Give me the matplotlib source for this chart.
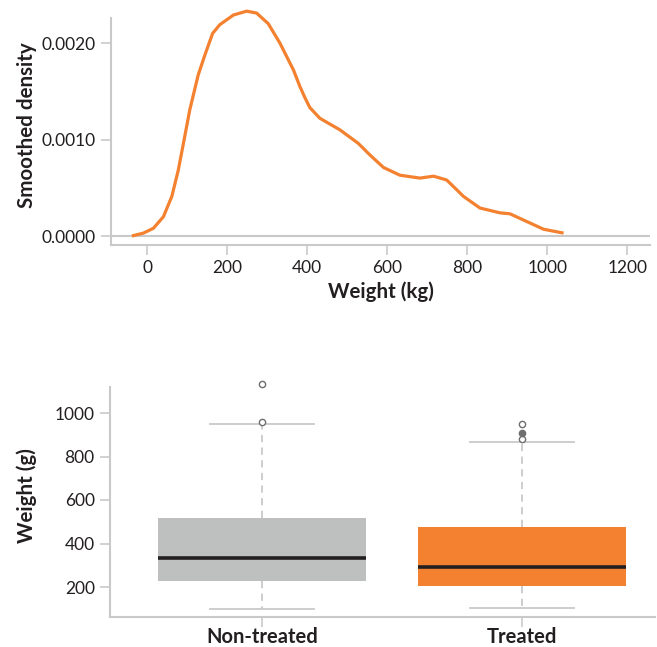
import matplotlib
matplotlib.use("Agg")
import matplotlib.pyplot as plt
import numpy as np

plt.rcParams['font.family'] = ['Lato', 'DejaVu Sans']

# ---- Data: density curve ----
weight_kg = [-38, -9, 16, 41, 62, 78, 91, 107, 128, 145, 164, 182, 216, 249, 274, 303,
             332, 366, 382, 395, 407, 432, 482, 528, 557, 591, 632, 682, 716, 749, 791,
             832, 882, 907, 949, 991, 1041]
density = [0.0, 0.00003, 0.00008, 0.0002, 0.00041, 0.00068, 0.00096, 0.00131, 0.00167,
           0.00188, 0.0021, 0.00219, 0.00229, 0.00233, 0.00231, 0.0022, 0.002, 0.00172,
           0.00155, 0.00143, 0.00133, 0.00122, 0.0011, 0.00096, 0.00084, 0.00071, 0.00063,
           0.0006, 0.00062, 0.00058, 0.00041, 0.00029, 0.00024, 0.00023, 0.00015, 0.00007,
           0.00003]
x_ticks_top = [0, 200, 400, 600, 800, 1000, 1200]
y_ticks_top = [0.0, 0.001, 0.002]

# ---- Data: boxplot ----
groups = ["Non-treated", "Treated"]
q1 = [229, 206]
median = [332, 293]
q3 = [515, 478]
whisker_low = [99, 103]
whisker_high = [949, 868]
outliers_open = [[1133, 960], [949, 879]]
outliers_filled = [[], [907]]
y_ticks_bottom = [200, 400, 600, 800, 1000]

orange = "#F3812F"
grey_box = "#BEC0BF"
spine_c = "#C9C9C9"
text_c = "#231F20"

W, H = 657, 647
fig = plt.figure(figsize=(W / 100, H / 100), dpi=100)

def ax_rect(l, r, t, b):
    return [l / W, 1 - b / H, (r - l) / W, (b - t) / H]

# ---------- Top: density ----------
ax1 = fig.add_axes(ax_rect(111, 650, 5, 245))
ax1.plot(weight_kg, density, color=orange, lw=2.3, solid_joinstyle='round',
         solid_capstyle='butt', zorder=3)
ax1.axhline(0, color=spine_c, lw=1.5, zorder=1)
ppu = (236 - 43) / 0.002
ylo = -(245 - 236) / ppu
yhi = 0.002 + (43 - 5) / ppu
ax1.set_ylim(ylo, yhi)
ax1.set_xlim(-90, 1257)
ax1.set_xticks(x_ticks_top)
ax1.set_yticks(y_ticks_top)
ax1.set_yticklabels([f"{v:.4f}" for v in y_ticks_top])
for s in ["top", "right"]:
    ax1.spines[s].set_visible(False)
for s in ["left", "bottom"]:
    ax1.spines[s].set_color(spine_c)
    ax1.spines[s].set_linewidth(1.5)
ax1.spines["left"].set_bounds(ylo, 0.002 + (43 - 18) / ppu)
ax1.tick_params(colors=spine_c, labelcolor=text_c, labelsize=12.5, length=7, width=1.2, pad=4)
ax1.set_xlabel("Weight (kg)", fontsize=14.8, fontweight='bold', color=text_c, labelpad=4)
ax1.set_ylabel("Smoothed density", fontsize=14.8, fontweight='bold', color=text_c, labelpad=3)

# ---------- Bottom: boxplot ----------
ax2 = fig.add_axes(ax_rect(110, 655, 375, 617))
ppv = (587 - 413) / 800.0
ylo2 = 200 - (617 - 587) / ppv
yhi2 = 1000 + (413 - 375) / ppv
stats = []
for i in range(2):
    stats.append(dict(med=median[i], q1=q1[i], q3=q3[i], whislo=whisker_low[i],
                      whishi=whisker_high[i], fliers=[]))
positions = [0, 1]
bp = ax2.bxp(stats, positions=positions, widths=0.8, patch_artist=True, showfliers=False,
             boxprops=dict(linewidth=0),
             medianprops=dict(color="#231F20", linewidth=2.6, solid_capstyle='butt'),
             whiskerprops=dict(color=spine_c, linewidth=1.3, linestyle=(0, (4, 3))),
             capprops=dict(color=spine_c, linewidth=1.3), capwidths=0.4)
for patch, c in zip(bp['boxes'], [grey_box, orange]):
    patch.set_facecolor(c)
    patch.set_edgecolor(c)
for i in range(2):
    ax2.plot([positions[i]] * len(outliers_open[i]), outliers_open[i], linestyle='none',
             marker='o', ms=4.5, mfc='white', mec='#6E6E6E', mew=1.0, clip_on=False, zorder=4)
    if outliers_filled[i]:
        ax2.plot([positions[i]] * len(outliers_filled[i]), outliers_filled[i], linestyle='none',
                 marker='o', ms=4.5, mfc='#6E6E6E', mec='#6E6E6E', mew=1.0, clip_on=False, zorder=5)
ax2.set_ylim(ylo2, yhi2)
ax2.set_xlim(-0.585, 1.51)
ax2.set_yticks(y_ticks_bottom)
ax2.set_xticks(positions)
ax2.set_xticklabels(groups, fontsize=14.5, fontweight='bold')
for s in ["top", "right"]:
    ax2.spines[s].set_visible(False)
for s in ["left", "bottom"]:
    ax2.spines[s].set_color(spine_c)
    ax2.spines[s].set_linewidth(1.5)
ax2.spines["left"].set_bounds(ylo2, 1000 + (413 - 387) / ppv)
ax2.tick_params(axis='y', colors=spine_c, labelcolor=text_c, labelsize=12.5, length=7, width=1.2, pad=4)
ax2.tick_params(axis='x', colors=spine_c, labelcolor=text_c, length=7, width=1.2, pad=0)
ax2.set_ylabel("Weight (g)", fontsize=14.8, fontweight='bold', color=text_c, labelpad=13)

fig.savefig("out.png", dpi=100, facecolor='white')
